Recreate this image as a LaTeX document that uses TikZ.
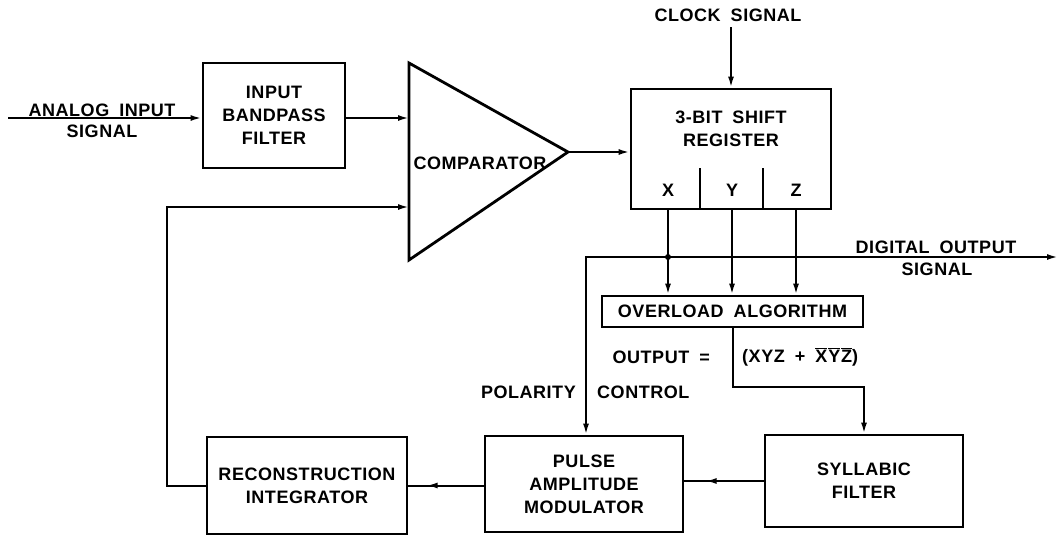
\documentclass[tikz,border=0pt]{standalone}
\usepackage{fontspec}
\setmainfont{Liberation Sans}[LetterSpace=3,WordSpace=1.8]
\usetikzlibrary{arrows.meta,decorations.markings,calc}
\tikzset{
  lbl/.style={font=\bfseries\fontsize{18}{23}\selectfont, align=center, inner sep=0pt},
  blk/.style={draw, line width=2.8pt, inner sep=0pt, lbl},
  wire/.style={line width=2pt},
  arr/.style={wire, -{Latex[length=11pt,width=6pt]}},
  midarr/.style={wire, postaction={decorate},
    decoration={markings, mark=at position #1 with {\arrow{Latex[length=11pt,width=6pt]}}}},
}
\begin{document}
\begin{tikzpicture}[x=1pt,y=-1pt]
\useasboundingbox (0,0) rectangle (1061,536);
% blocks
\node[blk, minimum width=142pt, minimum height=105pt] (bpf) at (274,115.5) {INPUT\\BANDPASS\\FILTER};
\coordinate (cA) at (409,63);
\coordinate (cB) at (568,152);
\coordinate (cC) at (409,260);
\draw[line width=2.8pt, line join=miter] (cA) -- (cB) -- (cC) -- cycle;
\node[lbl] (cmp) at (480,163) {COMPARATOR};
\coordinate (cin1) at (409,118);
\coordinate (cin2) at (409,207);
\node[blk, minimum width=200pt, minimum height=120pt] (sr) at (731,149) {};
\node[lbl] (srt) at (731,129) {3-BIT SHIFT\\REGISTER};
\draw[line width=2.4pt] (700,168) -- (700,209);
\draw[line width=2.4pt] (763,168) -- (763,209);
\node[lbl] (bx) at (668,190) {X};
\node[lbl] (by) at (732,190) {Y};
\node[lbl] (bz) at (796,190) {Z};
\node[lbl] (clk) at (728,15) {CLOCK SIGNAL};
\coordinate (ck) at (731,27);
\node[blk, minimum width=261pt, minimum height=31pt] (ov) at (732.5,311.5) {OVERLOAD ALGORITHM};
\node[blk, minimum width=198pt, minimum height=96pt] (pam) at (584,484) {PULSE\\AMPLITUDE\\MODULATOR};
\node[blk, minimum width=198pt, minimum height=92pt] (syl) at (864,481) {SYLLABIC\\FILTER};
\node[blk, minimum width=200pt, minimum height=97pt] (rec) at (307,485.5) {RECONSTRUCTION\\INTEGRATOR};
% labels
\coordinate (ain) at (8,118);
\node[lbl, anchor=base] (atxt) at (102,116) {ANALOG INPUT};
\node[lbl] (asig) at (102,131) {SIGNAL};
\node[lbl, anchor=base] (dtxt) at (936,253) {DIGITAL OUTPUT};
\node[lbl] (dsig) at (937,269) {SIGNAL};
\node[lbl, anchor=east] (outeq) at (710,357) {OUTPUT =};
\node[lbl, anchor=west] (formula) at (742,357) {(XYZ + $\overline{\mbox{X}}\mkern1mu\overline{\mbox{Y}}\mkern1mu\overline{\mbox{Z}}$)};
\node[lbl, anchor=east] (pol) at (576,392) {POLARITY};
\node[lbl, anchor=west] (ctl) at (597,392) {CONTROL};
% connectors
\draw[arr] (ain) -- (ain -| bpf.west);
\draw[arr] (bpf.east |- cin1) -- (cin1);
\draw[arr] (cB) -- (cB -| sr.west);
\draw[arr] (ck) -- (ck |- sr.north);
\draw[arr] (bx |- sr.south) -- (bx |- ov.north);
\draw[arr] (by |- sr.south) -- (by |- ov.north);
\draw[arr] (bz |- sr.south) -- (bz |- ov.north);
\coordinate (j) at (668,257);
\coordinate (dout) at (1058,257);
\coordinate (pc) at (586,257);
\fill (j) circle (3pt);
\draw[arr] (j) -- (dout);
\draw[arr] (j) -- (pc) -- (pc |- pam.north);
\coordinate (f1) at (732,387);
\draw[arr] (ov.south) -- (ov.south |- f1) -| (syl.north);
\draw[midarr=58pt] (syl.west) -- (syl.west -| pam.east);
\draw[midarr=57pt] (pam.west |- rec.east) -- (rec.east);
\coordinate (fb) at (167,300);
\draw[arr] (rec.west) -- (rec.west -| fb) |- (cin2);
\end{tikzpicture}
\end{document}
